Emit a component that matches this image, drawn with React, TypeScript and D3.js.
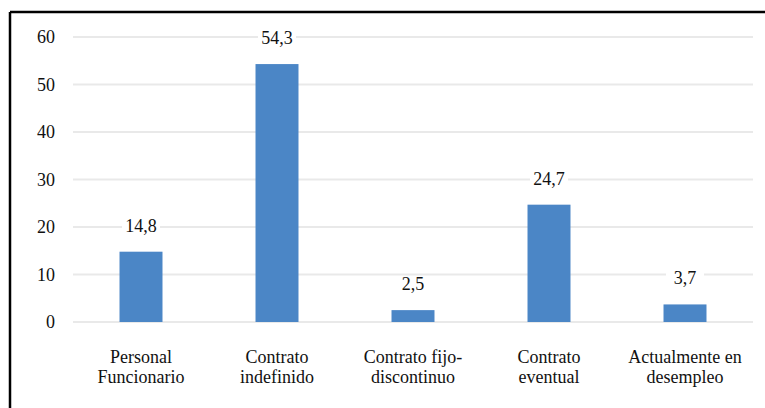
import React from "react";
import * as d3 from "d3";

const categories: string[][] = [
  ["Personal", "Funcionario"],
  ["Contrato", "indefinido"],
  ["Contrato fijo-", "discontinuo"],
  ["Contrato", "eventual"],
  ["Actualmente en", "desempleo"],
];
const values: number[] = [14.8, 54.3, 2.5, 24.7, 3.7];
const yTicks: number[] = [0, 10, 20, 30, 40, 50, 60];

const W = 765;
const H = 408;
const FONT = '"Liberation Serif"';

export default function App() {
  const keys = categories.map((c) => c.join(" "));
  const x = d3.scaleBand<string>().domain(keys).range([73, 753]).paddingInner(0.684).paddingOuter(0.342);
  const y = d3.scaleLinear().domain([0, 60]).range([322, 37]);
  const fmt = (v: number) => v.toFixed(1).replace(".", ",");
  const txt = { fontFamily: FONT, fontSize: 18 } as React.CSSProperties;

  return (
    <svg width={W} height={H} style={{ position: "absolute", left: 0, top: 0, background: "#fff" }}>
      {/* frame: top and left edges */}
      <line x1={10} y1={12} x2={W} y2={12} stroke="#000" strokeWidth={2.5} />
      <line x1={10} y1={12} x2={10} y2={H} stroke="#000" strokeWidth={2.5} />

      {/* gridlines and y tick labels */}
      {yTicks.map((t) => (
        <g key={t}>
          <line x1={73} x2={753} y1={y(t)} y2={y(t)} stroke="#e9e9e9" strokeWidth={2} />
          <text x={55} y={y(t)} dy="0.34em" textAnchor="end" style={txt} fill="#111">
            {t}
          </text>
        </g>
      ))}

      {/* bars with value labels */}
      {values.map((v, i) => {
        const k = keys[i];
        const bx = x(k)!;
        const bw = x.bandwidth();
        const cx = bx + bw / 2;
        const ly = y(v) - 20;
        return (
          <g key={k}>
            <rect x={bx} y={y(v)} width={bw} height={y(0) - y(v)} fill="#4b86c6" />
            <rect x={cx - 19} y={ly - 14} width={38} height={18} fill="#fff" />
            <text x={cx} y={ly} textAnchor="middle" style={txt} fill="#111">
              {fmt(v)}
            </text>
          </g>
        );
      })}

      {/* category labels */}
      {categories.map((lines, i) => {
        const cx = x(keys[i])! + x.bandwidth() / 2;
        return (
          <text key={keys[i]} textAnchor="middle" style={txt} fill="#111">
            {lines.map((ln, j) => (
              <tspan key={j} x={cx} y={363 + j * 20}>
                {ln}
              </tspan>
            ))}
          </text>
        );
      })}
    </svg>
  );
}
